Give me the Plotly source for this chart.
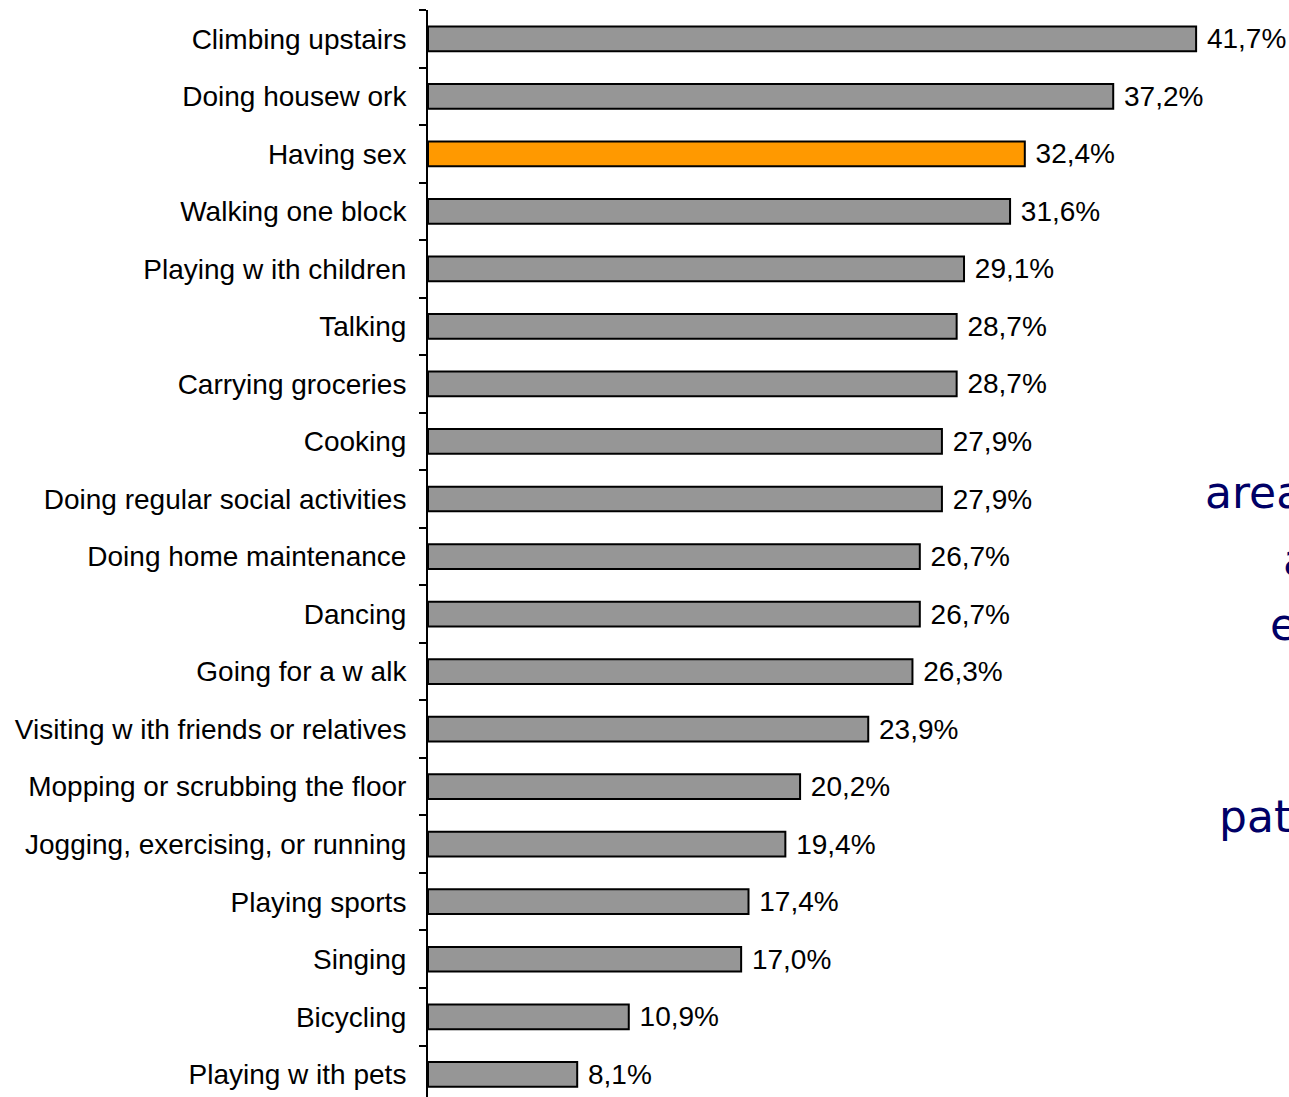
import plotly.graph_objects as go

# Activities, top to bottom, and the share of respondents reporting difficulty
activities = [
    "Climbing upstairs",
    "Doing housew ork",
    "Having sex",
    "Walking one block",
    "Playing w ith children",
    "Talking",
    "Carrying groceries",
    "Cooking",
    "Doing regular social activities",
    "Doing home maintenance",
    "Dancing",
    "Going for a w alk",
    "Visiting w ith friends or relatives",
    "Mopping or scrubbing the floor",
    "Jogging, exercising, or running",
    "Playing sports",
    "Singing",
    "Bicycling",
    "Playing w ith pets",
]
percentages = [41.7, 37.2, 32.4, 31.6, 29.1, 28.7, 28.7, 27.9, 27.9, 26.7,
               26.7, 26.3, 23.9, 20.2, 19.4, 17.4, 17.0, 10.9, 8.1]
highlight = "Having sex"

GRAY = "#969696"
ORANGE = "#FF9900"
NAVY = "#000066"

W, H = 1289, 1097
LEFT, TOP = 428, 10
PX_PER_PCT = 18.42
ROW_PX = 57.53

bar_colors = [ORANGE if a == highlight else GRAY for a in activities]
labels = [" " + f"{v:.1f}".replace(".", ",") + "%" for v in percentages]

fig = go.Figure(go.Bar(
    x=percentages,
    y=activities,
    orientation="h",
    width=0.43,
    marker=dict(color=bar_colors, line=dict(color="black", width=2)),
    text=labels,
    textposition="outside",
    constraintext="none",
    cliponaxis=False,
    textfont=dict(family="Liberation Sans, Arial, sans-serif", size=28, color="black"),
    hoverinfo="skip",
))

plot_w = W - LEFT
plot_h = H - TOP
x_max = plot_w / PX_PER_PCT
y_bottom = -0.5 + plot_h / ROW_PX

fig.update_xaxes(range=[0, x_max], visible=False, fixedrange=True)
fig.update_yaxes(
    type="category",
    categoryorder="array",
    categoryarray=activities,
    range=[y_bottom, -0.5],
    showline=True,
    linecolor="black",
    linewidth=2,
    ticks="outside",
    tickson="boundaries",
    ticklen=7,
    tickwidth=2,
    tickcolor="black",
    ticklabelstandoff=14,
    showgrid=False,
    zeroline=False,
    tickfont=dict(family="Liberation Sans, Arial, sans-serif", size=28, color="black"),
)

# Fragments of slide text running off the right edge
side_text = [
    ("area", 1203, 492),
    ("a", 1281, 559),
    ("e", 1268, 624),
    ("pat", 1217, 816),
]
for word, px, py in side_text:
    fig.add_annotation(
        text=word,
        x=px / W, y=1 - py / H,
        xref="paper", yref="paper",
        xanchor="left", yanchor="middle",
        showarrow=False,
        font=dict(family="DejaVu Sans, Verdana, sans-serif", size=44, color=NAVY),
    )

fig.update_layout(
    width=W, height=H,
    margin=dict(l=LEFT, r=0, t=TOP, b=0, pad=0),
    paper_bgcolor="white",
    plot_bgcolor="white",
    showlegend=False,
    bargap=0.57,
)

# Annotations use paper coordinates, which span the plot area; convert from page pixels
for ann in fig.layout.annotations:
    page_x = ann.x * W
    page_y = (1 - ann.y) * H
    ann.x = (page_x - LEFT) / plot_w
    ann.y = 1 - (page_y - TOP) / plot_h

fig.write_html("out.html")
